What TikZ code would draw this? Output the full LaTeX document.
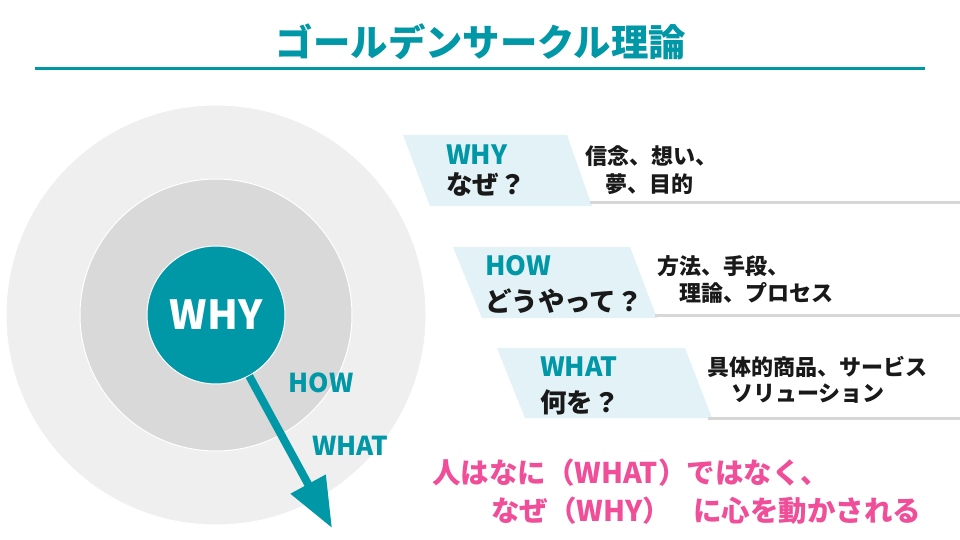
\documentclass[tikz,border=0pt]{standalone}
\usepackage{fontspec}
\setmainfont{Noto Sans CJK JP}
\usetikzlibrary{arrows.meta}
\definecolor{tealc}{RGB}{0,151,167}
\definecolor{panelc}{RGB}{226,242,246}
\definecolor{outerc}{RGB}{239,239,239}
\definecolor{midc}{RGB}{217,217,217}
\definecolor{lgray}{RGB}{215,215,215}
\definecolor{pinkc}{RGB}{240,78,152}
\definecolor{inkc}{RGB}{25,25,25}
\begin{document}
\begin{tikzpicture}[x=1pt,y=-1pt,
  ring/.style={circle, draw=white, line width=1pt, inner sep=0},
  lbl/.style={inner sep=0, anchor=west, font=\bfseries\fontsize{26.5}{28}\selectfont},
  desc/.style={inner sep=0, anchor=west, text=inkc, font=\bfseries\fontsize{22}{24}\selectfont},
  panel/.style={fill=panelc},
  gline/.style={draw=lgray, line width=3pt},
  pinktext/.style={inner sep=0, anchor=west, text=pinkc, font=\bfseries\fontsize{28.5}{30}\selectfont},
  circlbl/.style={inner sep=0, text=tealc, font=\bfseries\fontsize{26}{28}\selectfont}]
\useasboundingbox (0,0) rectangle (960,540);
\fill[white] (0,0) rectangle (960,540);
% title
\node[inner sep=0, text=tealc, font=\bfseries\fontsize{37.4}{40}\selectfont] (title) at (481,42) {ゴールデンサークル理論};
\draw[tealc, line width=3pt] (35,69) -- (925,69);
% circles
\node[ring, fill=outerc, minimum size=420pt] (outer) at (216,315) {};
\node[ring, fill=midc, minimum size=272pt] (mid) at (216,315) {};
\node[ring, fill=tealc, minimum size=138pt, text=white, font=\bfseries\fontsize{40}{44}\selectfont] (why) at (216,315) {WHY};
\coordinate (tip) at (332,528);
\draw[tealc, line width=8pt, -{Triangle[length=50pt,width=38pt]}] (why) -- (tip);
\node[circlbl] (howc) at (321,383) {HOW};
\node[circlbl] (whatc) at (350,446) {WHAT};
% WHY panel
\fill[panel] (403,135) -- (567,135) -- (592,206) -- (430,206) -- cycle;
\draw[gline] (590,202) -- (960,202);
\node[lbl, text=tealc] (p1a) at (446,155) {WHY};
\node[lbl, text=inkc] (p1b) at (446,184) {なぜ？};
\node[desc] (d1a) at (585,156) {信念、想い、};
\node[desc] (d1b) at (605,184) {夢、目的};
% HOW panel
\fill[panel] (453,247) -- (630,247) -- (657,318) -- (482,318) -- cycle;
\draw[gline] (655,315) -- (960,315);
\node[lbl, text=tealc] (p2a) at (485,266) {HOW};
\node[lbl, text=inkc] (p2b) at (485,301) {どうやって？};
\node[desc] (d2a) at (657,266) {方法、手段、};
\node[desc] (d2b) at (679,293) {理論、プロセス};
% WHAT panel
\fill[panel] (497,348) -- (685,348) -- (712,418) -- (525,418) -- cycle;
\draw[gline] (708,418) -- (960,418);
\node[lbl, text=tealc] (p3a) at (540,367) {WHAT};
\node[lbl, text=inkc] (p3b) at (540,402) {何を？};
\node[desc] (d3a) at (707,367) {具体的商品、サービス};
\node[desc] (d3b) at (731,394) {ソリューション};
% bottom message
\node[pinktext] (m1) at (432,473) {人はなに（WHAT）ではなく、};
\node[pinktext] (m2) at (491,511) {なぜ（WHY）\hspace{22pt}に心を動かされる};
\end{tikzpicture}
\end{document}
